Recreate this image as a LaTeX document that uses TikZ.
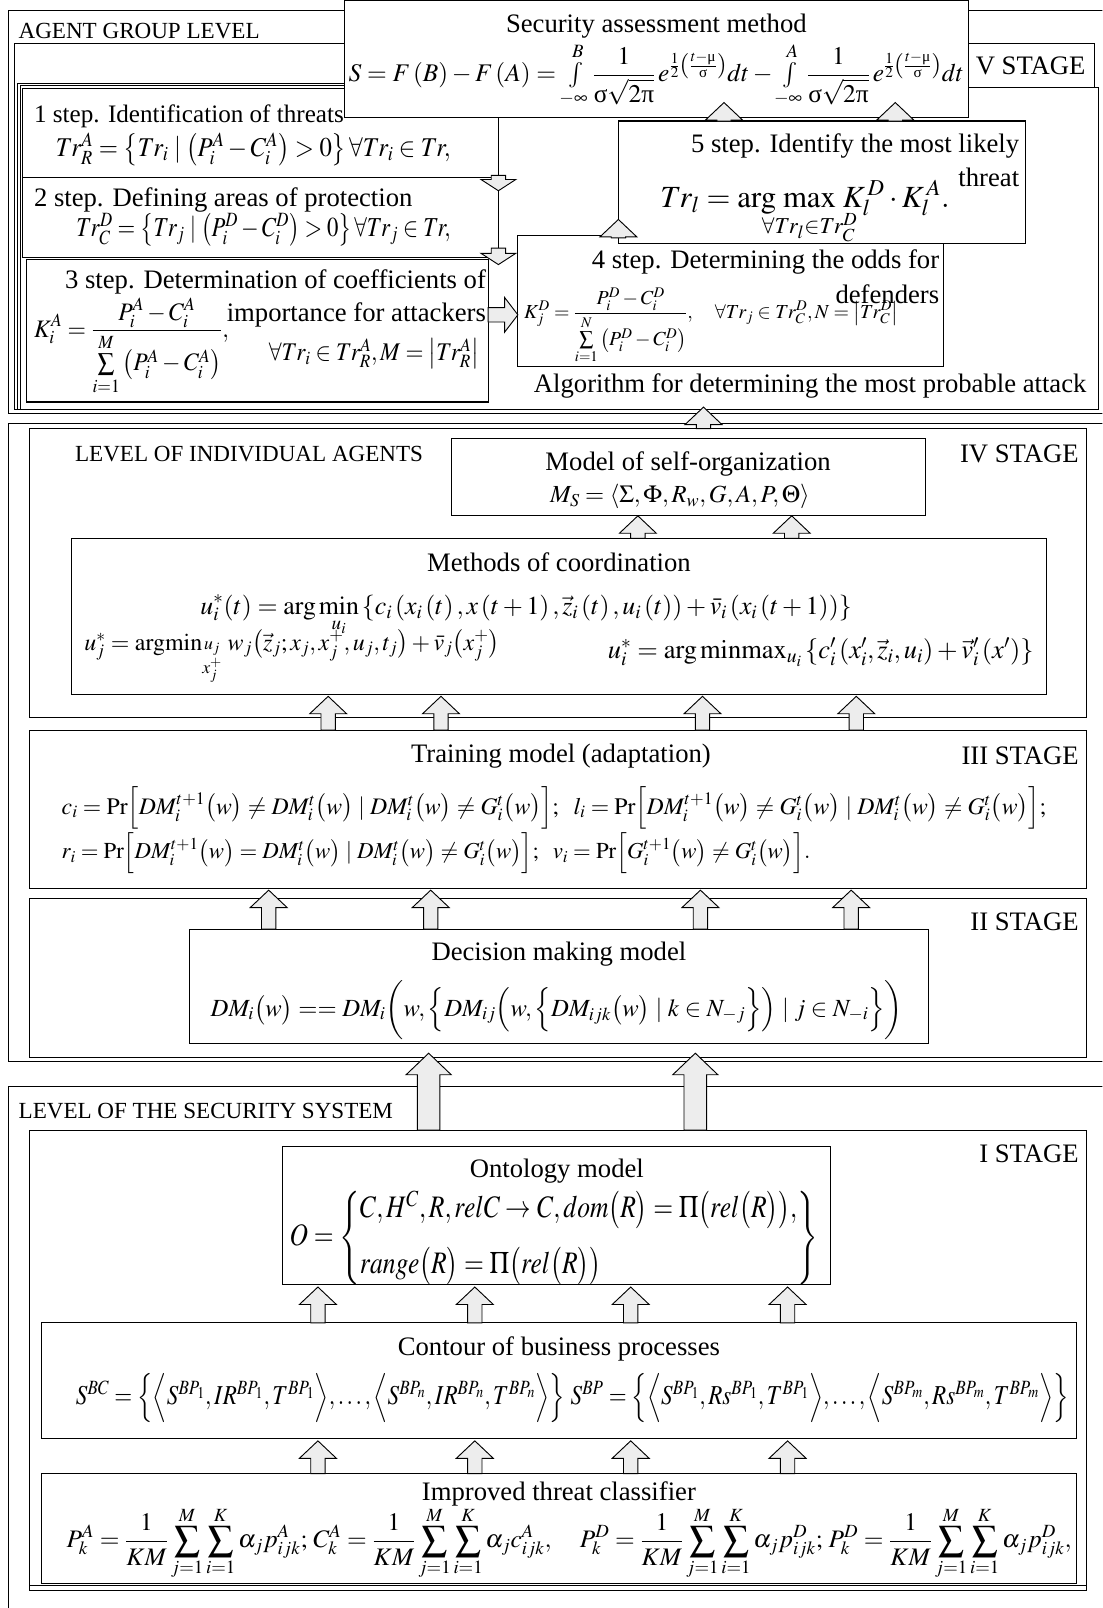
\documentclass[tikz,border=0pt]{standalone}
\usepackage{amsmath}
\usepackage{mathtools}
\usepackage{graphicx}
\usepackage{mathptmx}
\usepackage{fontspec}
\setmainfont{Liberation Serif}
\newcommand{\gsig}{\text{σ}}
\newcommand{\gpi}{\text{π}}
\newcommand{\gmu}{\text{μ}}
\newcommand{\fw}[2]{\resizebox{#1pt}{!}{#2}}
\newcommand{\fwh}[3]{\resizebox*{#1pt}{#2pt}{#3}}
\tikzset{
  frm/.style={line width=1pt},
  box/.style={draw, line width=1pt, fill=white, inner sep=0pt, outer sep=0pt, anchor=north west},
  lbl/.style={inner sep=0pt, font=\fontsize{22.5}{27}\selectfont},
  ttl/.style={inner sep=0pt, font=\fontsize{26}{31}\selectfont},
  stp/.style={inner sep=0pt, font=\fontsize{24.5}{29}\selectfont},
  fml/.style={inner sep=0pt, font=\fontsize{24}{29}\selectfont},
  barrow/.style={draw, line width=0.9pt, fill=black!7, line join=miter},
}
% block arrows: x, ybase, ytip
\newcommand{\barup}[3]{\draw[barrow] ({#1-7},#2) -- ({#1-7},{#3+17}) -- ({#1-18},{#3+17}) -- (#1,#3) -- ({#1+18},{#3+17}) -- ({#1+7},{#3+17}) -- ({#1+7},#2) -- cycle;}
\newcommand{\bigup}[3]{\draw[barrow] ({#1-11},#2) -- ({#1-11},{#3+21}) -- ({#1-22},{#3+21}) -- (#1,#3) -- ({#1+22},{#3+21}) -- ({#1+11},{#3+21}) -- ({#1+11},#2) -- cycle;}
\newcommand{\bardown}[3]{\draw[barrow] ({#1-7},#2) -- ({#1-7},{#3-11}) -- ({#1-17},{#3-11}) -- (#1,#3) -- ({#1+17},{#3-11}) -- ({#1+7},{#3-11}) -- ({#1+7},#2) -- cycle;}
\newcommand{\barright}[3]{\draw[barrow] (#2,{#1-7}) -- ({#3-13},{#1-7}) -- ({#3-13},{#1-17}) -- (#3,#1) -- ({#3-13},{#1+17}) -- ({#3-13},{#1+7}) -- (#2,{#1+7}) -- cycle;}
\begin{document}
\begin{tikzpicture}[x=1pt,y=-1pt]
\useasboundingbox (0,0) rectangle (1075,1568);
\fill[white] (0,0) rectangle (1075,1568);
\clip (0,0) rectangle (1075,1568);

%================ AGENT GROUP LEVEL =================
\draw[frm] (1100,10) -- (8,10) -- (8,403) -- (1100,403);
\draw[frm] (14,399) -- (14,42) -- (1067,42) -- (1067,85);
\draw[frm] (17,399) -- (17,81) -- (944,81);
\draw[frm] (944,85) -- (1071,85) -- (1071,399) -- (14,399);
\draw[line width=0.8pt] (19.5,399) -- (19.5,83.5) -- (944,83.5);
\node[lbl, anchor=west] (agl) at (18,30) {AGENT GROUP LEVEL};

% steps
\node[box, minimum width=464pt, minimum height=87pt] (st1) at (22,86) {};
\node[box, minimum width=464pt, minimum height=78pt] (st2) at (22,173) {};
\node[box, minimum width=450pt, minimum height=139pt] (st3) at (26,253) {};
\node[box, minimum width=415pt, minimum height=127pt] (st4) at (505,230) {};
\node[box, minimum width=397pt, minimum height=119pt] (st5) at (603,118) {};
\node[box, minimum width=608pt, minimum height=115pt] (sec) at (336,0) {};
\node[box, minimum width=123pt, minimum height=43pt] (vst) at (944,42) {};

\node[ttl] (sect) at (640,25) {Security assessment method};
\node[fml] (secf) at (640,73) {\fw{600}{$S = F\left(B\right) - F\left(A\right) = \textstyle\int\limits_{-\infty}^{B}\displaystyle \frac{1}{\gsig\sqrt{2\gpi}}\, e^{\frac{1}{2}\left(\frac{t-\gmu}{\gsig}\right)} dt - \textstyle\int\limits_{-\infty}^{A}\displaystyle \frac{1}{\gsig\sqrt{2\gpi}}\, e^{\frac{1}{2}\left(\frac{t-\gmu}{\gsig}\right)} dt$}};
\node[ttl] (vstt) at (1005,64) {V STAGE};

\node[stp, anchor=west] (st1t) at (33,113) {1 step. Identification of threats};
\node[fml] (st1f) at (247,146) {\fwh{385}{32}{$Tr_R^A = \left\{Tr_i \mid \left(P_i^A - C_i^A\right) > 0\right\} \forall Tr_i \in Tr,$}};
\node[ttl, anchor=west] (st2t) at (33,195) {2 step. Defining areas of protection};
\node[fml] (st2f) at (257,224) {\fwh{365}{32}{$Tr_C^D = \left\{Tr_j \mid \left(P_i^D - C_i^D\right) > 0\right\} \forall Tr_j \in Tr,$}};
\node[ttl, anchor=east] (st3t) at (474,275) {3 step. Determination of coefficients of};
\node[ttl, anchor=east] (st3u) at (474,307) {importance for attackers};
\node[fml, anchor=west] (st3f) at (33,338) {\fwh{190}{94}{$\displaystyle K_i^A = \frac{P_i^A - C_i^A}{\sum\limits_{i=1}^{M}\left(P_i^A - C_i^A\right)},$}};
\node[fml, anchor=west] (st3g) at (262,345) {\fwh{205}{30}{$\forall Tr_i \in Tr_R^A, M = \left|Tr_R^A\right|$}};
\node[ttl, anchor=east] (st4t) at (916,255) {4 step. Determining the odds for};
\node[ttl, anchor=east] (st4u) at (916,287) {defenders};
\node[fml, anchor=west] (st4f) at (511,318) {\fw{365}{$\displaystyle K_j^D = \frac{P_i^D - C_i^D}{\sum\limits_{i=1}^{N}\left(P_i^D - C_i^D\right)},\quad \forall Tr_j \in Tr_C^D, N = \left|Tr_C^D\right|$}};
\node[ttl, anchor=east] (st5t) at (994,142) {5 step. Identify the most likely};
\node[ttl, anchor=east] (st5u) at (994,173) {threat};
\node[fml] (st5f) at (785,207) {\fw{282}{$\displaystyle Tr_l = \mathrm{arg}\,\max_{\mathclap{\forall Tr_l \in Tr_C^D}}\, K_l^{\,D} \cdot K_l^{\,A}.$}};
\node[ttl] (alg) at (790,376) {Algorithm for determining the most probable attack};

% connectors (top group)
\draw[line width=1pt] (sec.south -| st1.east) -- (st3.north -| st1.east);
\bardown{486}{171}{186}
\bardown{486}{242}{258}
\barright{307}{476}{505}
\barup{603}{232}{214}
\barup{706}{118}{100}
\barup{873}{118}{100}

%================ LEVEL OF INDIVIDUAL AGENTS =================
\draw[frm] (1100,412.5) -- (8,412.5) -- (8,1035) -- (1100,1035);
\node[box, minimum width=1030pt, minimum height=282pt] (s4) at (29,418) {};
\node[box, minimum width=1030pt, minimum height=154pt] (s3) at (29,712) {};
\node[box, minimum width=1030pt, minimum height=155pt] (s2) at (29,876) {};
\node[box, minimum width=462pt, minimum height=75pt] (mso) at (440,428) {};
\node[box, minimum width=950pt, minimum height=152pt] (mco) at (70,525) {};
\node[box, minimum width=720pt, minimum height=112pt] (dmm) at (185,906) {};

\node[lbl, anchor=west] (lia) at (73,443) {LEVEL OF INDIVIDUAL AGENTS};
\node[ttl, anchor=east] (s4t) at (1052,443) {IV STAGE};
\node[ttl] (msot) at (671,452) {Model of self-organization};
\node[fml] (msof) at (663,484) {\fw{253}{$M_S = \left\langle \Sigma, \Phi, R_w, G, A, P, \Theta\right\rangle$}};
\node[ttl] (mcot) at (545,548) {Methods of coordination};
\node[fml] (mcof) at (513,600) {\fw{635}{$\displaystyle u_i^*(t) = \arg\min_{u_i} \left\{ c_i\left(x_i\left(t\right), x\left(t+1\right), \vec z_i\left(t\right), u_i\left(t\right)\right) + \bar v_i\left(x_i\left(t+1\right)\right)\right\}$}};
\node[fml, anchor=west] (mcog) at (82,640) {\fw{405}{$u_j^* = \mathrm{argmin}_{\substack{u_j\\ x_j^+}}\; w_j\bigl(\vec z_j; x_j, x_j^+, u_j, t_j\bigr) + \bar v_j\bigl(x_j^+\bigr)$}};
\node[fml, anchor=east] (mcoh) at (1008,636) {\fw{415}{$u_i^* = \arg\mathrm{minmax}_{u_i}\left\{c_i'\left(x_i', \vec z_i, u_i\right) + \vec v_i'\left(x'\right)\right\}$}};

\node[ttl] (s3t) at (547,737) {Training model (adaptation)};
\node[ttl, anchor=east] (s3s) at (1052,737) {III STAGE};
\node[fml, anchor=west] (trf1) at (60,788) {\fw{960}{$c_i = \Pr\Bigl[DM_i^{t+1}\bigl(w\bigr) \neq DM_i^t\bigl(w\bigr) \mid DM_i^t\bigl(w\bigr) \neq G_i^t\bigl(w\bigr)\Bigr];\ \ l_i = \Pr\Bigl[DM_i^{t+1}\bigl(w\bigr) \neq G_i^t\bigl(w\bigr) \mid DM_i^t\bigl(w\bigr) \neq G_i^t\bigl(w\bigr)\Bigr];$}};
\node[fml, anchor=west] (trf2) at (60,832) {\fw{730}{$r_i = \Pr\Bigl[DM_i^{t+1}\bigl(w\bigr) = DM_i^t\bigl(w\bigr) \mid DM_i^t\bigl(w\bigr) \neq G_i^t\bigl(w\bigr)\Bigr];\ \ v_i = \Pr\Bigl[G_i^{t+1}\bigl(w\bigr) \neq G_i^t\bigl(w\bigr)\Bigr].$}};

\node[ttl, anchor=east] (s2s) at (1052,899) {II STAGE};
\node[ttl] (dmmt) at (545,930) {Decision making model};
\node[fml] (dmmf) at (543,985) {\fw{675}{$DM_i\bigl(w\bigr) == DM_i\biggl(w, \Bigl\{DM_{ij}\Bigl(w, \Bigl\{DM_{ijk}\bigl(w\bigr) \mid k \in N_{-j}\Bigr\}\Bigr) \mid j \in N_{-i}\Bigr\}\biggr)$}};

% arrows (middle)
\barup{686}{418}{397}
\barup{622}{525}{503}
\barup{772}{525}{503}
\barup{320}{712}{679}
\barup{430}{712}{679}
\barup{685}{712}{679}
\barup{835}{712}{679}
\barup{262}{906}{868}
\barup{420}{906}{868}
\barup{683}{906}{868}
\barup{830}{906}{868}

%================ LEVEL OF THE SECURITY SYSTEM =================
\draw[frm] (1100,1059) -- (8,1059) -- (8,1600);
\node[box, minimum width=1030pt, minimum height=449pt] (s1) at (29,1102) {};
\draw[frm] (29,1546) -- (1059,1546);
\node[box, minimum width=535pt, minimum height=135pt] (ont) at (275,1118) {};
\node[box, minimum width=1010pt, minimum height=113pt] (bpc) at (40,1290) {};
\node[box, minimum width=1010pt, minimum height=107pt] (itc) at (40,1437) {};

\node[lbl, anchor=west] (lss) at (18,1083) {LEVEL OF THE SECURITY SYSTEM};
\node[ttl, anchor=east] (s1s) at (1052,1125) {I STAGE};
\node[ttl] (ontt) at (543,1142) {Ontology model};
\node[fml] (ontf) at (540,1207) {\fwh{515}{92}{$O = \left\{\begin{array}{@{}l@{}} C, H^C, R, relC \to C, dom\bigl(R\bigr) = \Pi\bigl(rel\bigl(R\bigr)\bigr), \\[14pt] range\bigl(R\bigr) = \Pi\bigl(rel\bigl(R\bigr)\bigr) \end{array}\right\}$}};
\node[ttl] (bpct) at (545,1315) {Contour of business processes};
\node[fml] (bpcf) at (558,1363) {\fwh{968}{48}{$S^{BC} = \Bigl\{\Bigl\langle S^{BP_1}, IR^{BP_1}, T^{BP_1}\Bigr\rangle, \ldots, \Bigl\langle S^{BP_n}, IR^{BP_n}, T^{BP_n}\Bigr\rangle\Bigr\}\ S^{BP} = \Bigl\{\Bigl\langle S^{BP_1}, Rs^{BP_1}, T^{BP_1}\Bigr\rangle, \ldots, \Bigl\langle S^{BP_m}, Rs^{BP_m}, T^{BP_m}\Bigr\rangle\Bigr\}$}};
\node[ttl] (itct) at (545,1457) {Improved threat classifier};
\node[fml] (itcf) at (555,1505) {\fwh{980}{72}{$\displaystyle P_k^A = \frac{1}{KM}\sum_{j=1}^{M}\sum_{i=1}^{K}\alpha_j p_{ijk}^A;\, C_k^A = \frac{1}{KM}\sum_{j=1}^{M}\sum_{i=1}^{K}\alpha_j c_{ijk}^A,\quad P_k^D = \frac{1}{KM}\sum_{j=1}^{M}\sum_{i=1}^{K}\alpha_j p_{ijk}^D;\, P_k^D = \frac{1}{KM}\sum_{j=1}^{M}\sum_{i=1}^{K}\alpha_j p_{ijk}^D,$}};

% arrows (bottom)
\bigup{418}{1102}{1027}
\bigup{678}{1102}{1027}
\barup{310}{1290}{1255}
\barup{463}{1290}{1255}
\barup{615}{1290}{1255}
\barup{768}{1290}{1255}
\barup{310}{1437}{1405}
\barup{463}{1437}{1405}
\barup{615}{1437}{1405}
\barup{768}{1437}{1405}
\end{tikzpicture}
\end{document}
